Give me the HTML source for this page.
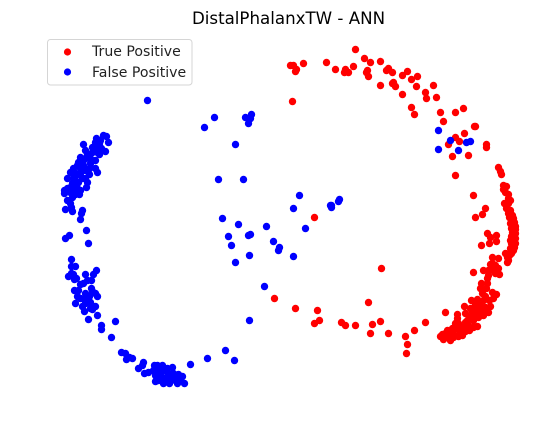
<!DOCTYPE html>
<html>
<head>
<meta charset="utf-8">
<title>DistalPhalanxTW - ANN</title>
<style>
html,body{margin:0;padding:0;background:#fff;width:549px;height:435px;overflow:hidden}
svg{display:block}
text{font-family:"DejaVu Sans",sans-serif;fill:#000}
</style>
</head>
<body>
<svg id="chart" width="549" height="435" viewBox="0 0 549 435" xmlns="http://www.w3.org/2000/svg">
<text x="288.5" y="24" font-size="16.67" text-anchor="middle">DistalPhalanxTW - ANN</text>
<g id="marks"></g>
<g>
<rect x="47.5" y="39.5" width="144.5" height="45.5" rx="3" fill="#fff" fill-opacity="0.8" stroke="#d5d5d5" stroke-width="1"/>
<circle cx="67.5" cy="52" r="3.6" fill="#ff0000"/>
<text x="92" y="56" font-size="14.1" fill="#000" opacity="0.87">True Positive</text>
<circle cx="67.5" cy="72" r="3.6" fill="#0000ff"/>
<text x="92" y="77" font-size="14.1" fill="#000" opacity="0.87">False Positive</text>
</g>
</svg>
<script>
var truePositive = [[80,169],[89,160],[95,156],[105,157],[78,152],[51,156],[60,149],[70,149],[69,146],[73,146],[28,155],[15,153],[18,153],[21,149],[20,147],[17,117],[92,148],[91,146],[93,142],[113,150],[111,148],[117,146],[132,147],[127,143],[136,139],[142,142],[105,133],[118,136],[117,135],[120,132],[141,132],[158,133],[127,124],[150,126],[151,120],[161,121],[136,111],[139,104],[165,106],[180,106],[188,110],[168,97],[200,92],[199,92],[189,85],[180,81],[184,77],[173,74],[211,74],[211,71],[177,62],[193,63],[180,43],[223,51],[225,47],[226,44],[228,33],[231,32],[228,29],[233,24],[233,20],[235,18],[233,15],[198,23],[210,10],[207,4],[200,1],[39,1],[235,6],[233,5],[237,3],[234,1],[235,8],[238,0],[240,-8],[238,-12],[239,-17],[238,-22],[238,-27],[238,-32],[236,-35],[232,-39],[230,-35],[233,-42],[235,-5],[237,-7],[237,-14],[240,-20],[239,-29],[235,-30],[235,-22],[240,-15],[212,-15],[221,-17],[221,-23],[214,-25],[206,-27],[215,-19],[106,-50],[198,-54],[-1,-80],[20,-90],[93,-84],[42,-92],[44,-102],[39,-105],[66,-104],[70,-107],[80,-107],[97,-106],[105,-103],[95,-115],[113,-115],[130,-118],[139,-112],[150,-104],[132,-126],[131,-135],[170,-94],[217,-39],[223,-40],[220,-47],[217,-45],[208,-52],[213,-52],[218,-52],[223,-50],[224,-56],[213,-57],[212,-65],[211,-70],[207,-75],[221,-76],[217,-74],[218,-80],[214,-82],[208,-82],[196,-82],[202,-81],[189,-88],[205,-87],[200,-90],[213,-94],[197,-94],[208,-97],[195,-99],[182,-96],[182,-100],[198,-102],[202,-108],[193,-107],[190,-104],[187,-109],[182,-110],[177,-110],[187,-117],[178,-115],[173,-117],[167,-116],[168,-121],[173,-119],[178,-119],[192,-102],[198,-109],[185,-114],[188,-112],[205,-95],[210,-89],[203,-99],[212,-60],[215,-46],[220,-55],[200,-86],[195,-90],[190,-95],[192,-110],[183,-105],[177,-115],[172,-112],[236,-2],[239,-4],[236,-10],[240,-11],[236,-18],[236,-25],[240,-25],[236,-33],[234,-37],[232,-44],[229,15],[231,10],[230,26],[205,-70],[210,-78],[204,-92],[196,-100],[190,-113],[183,-118],[175,-122],[165,-118],[170,-115],[180,-105],[200,-95],[208,-90],[194,-112],[215,-88],[206,-65]];
var falsePositive = [[163,88],[175,78],[191,76],[195,77],[163,69],[183,68],[24,23],[18,10],[64,19],[63,17],[56,13],[55,13],[56,11],[-128,118],[-71,91],[-61,101],[-30,101],[-24,104],[-25,100],[-27,95],[-40,74],[-57,39],[-32,39],[-172,83],[-169,82],[-179,80],[-167,76],[-192,74],[-176,75],[-180,76],[-183,71],[-174,70],[-170,67],[-176,64],[-183,66],[-188,64],[-195,61],[-180,58],[-185,60],[-192,58],[-197,56],[-198,53],[-185,55],[-192,53],[-202,50],[-205,46],[-195,50],[-178,46],[-186,44],[-200,45],[-208,40],[-202,40],[-193,40],[-188,36],[-203,35],[-197,36],[-205,31],[-189,31],[-195,28],[-211,28],[-196,24],[-211,25],[-205,26],[-203,21],[-208,18],[-210,9],[-204,11],[-203,7],[-193,8],[-194,5],[-195,-1],[-189,-12],[-206,-17],[-210,-20],[-187,-25],[-204,-41],[-204,-48],[-200,-48],[-179,-52],[-182,-56],[-190,-56],[-207,-58],[-202,-56],[-204,-55],[-201,-61],[-199,-60],[-184,-62],[-188,-62],[-192,-65],[-201,-72],[-197,-72],[-184,-70],[-183,-73],[-180,-75],[-178,-78],[-195,-80],[-191,-81],[-187,-82],[-185,-84],[-200,-85],[-193,-88],[-180,-88],[-183,-91],[-191,-93],[-178,-97],[-187,-101],[-160,-103],[-174,-107],[-174,-111],[-164,-119],[-154,-134],[-150,-135],[-149,-141],[-146,-139],[-143,-140],[-132,-144],[-133,-147],[-137,-150],[-131,-155],[-127,-154],[-121,-147],[-118,-147],[-113,-147],[-103,-149],[-122,-152],[-117,-152],[-110,-151],[-120,-157],[-115,-157],[-107,-155],[-102,-155],[-97,-156],[-93,-158],[-117,-162],[-112,-165],[-106,-165],[-98,-165],[-91,-165],[-110,-160],[-103,-160],[-95,-162],[-113,-159],[-85,-146],[-68,-140],[-50,-132],[-41,-142],[-53,0],[-37,-6],[-9,-8],[-47,-18],[-27,-17],[-25,-16],[-44,-27],[-26,-37],[-2,-23],[3,-32],[4,-29],[-40,-44],[-11,-68],[-26,-102],[30,-10],[18,-38],[-190,48],[-198,44],[-190,68],[-178,66],[-200,30],[-198,30],[-190,-75],[-186,-78],[-112,-152],[-108,-158],[-100,-162],[-118,-158],[-190,60],[-186,50],[-180,50],[-195,45],[-190,40],[-200,38],[-208,30],[-200,24],[-205,15],[-175,78],[-178,70],[-195,-66],[-198,-78],[-190,-85],[-185,-90],[-108,-150],[-115,-150],[-120,-163],[-105,-162],[-100,-158]];

function xScale(v) { return 275.5 + v; }
function yScale(v) { return 218.5 - v; }

var svgNS = 'http://www.w3.org/2000/svg';
var marks = document.getElementById('marks');

function drawSeries(points, color, markName) {
  var group = document.createElementNS(svgNS, 'g');
  
  
  points.forEach(function (p) {
    var el = document.createElementNS(svgNS, 'circle');
    el.setAttribute('cx', xScale(p[0]));
    el.setAttribute('cy', yScale(p[1]));
    el.setAttribute('r', 3.7);
    el.setAttribute('fill', color);
    
    
    group.appendChild(el);
  });
  marks.appendChild(group);
}

drawSeries(truePositive, '#ff0000', 'true-positive');
drawSeries(falsePositive, '#0000ff', 'false-positive');
</script>
</body>
</html>
